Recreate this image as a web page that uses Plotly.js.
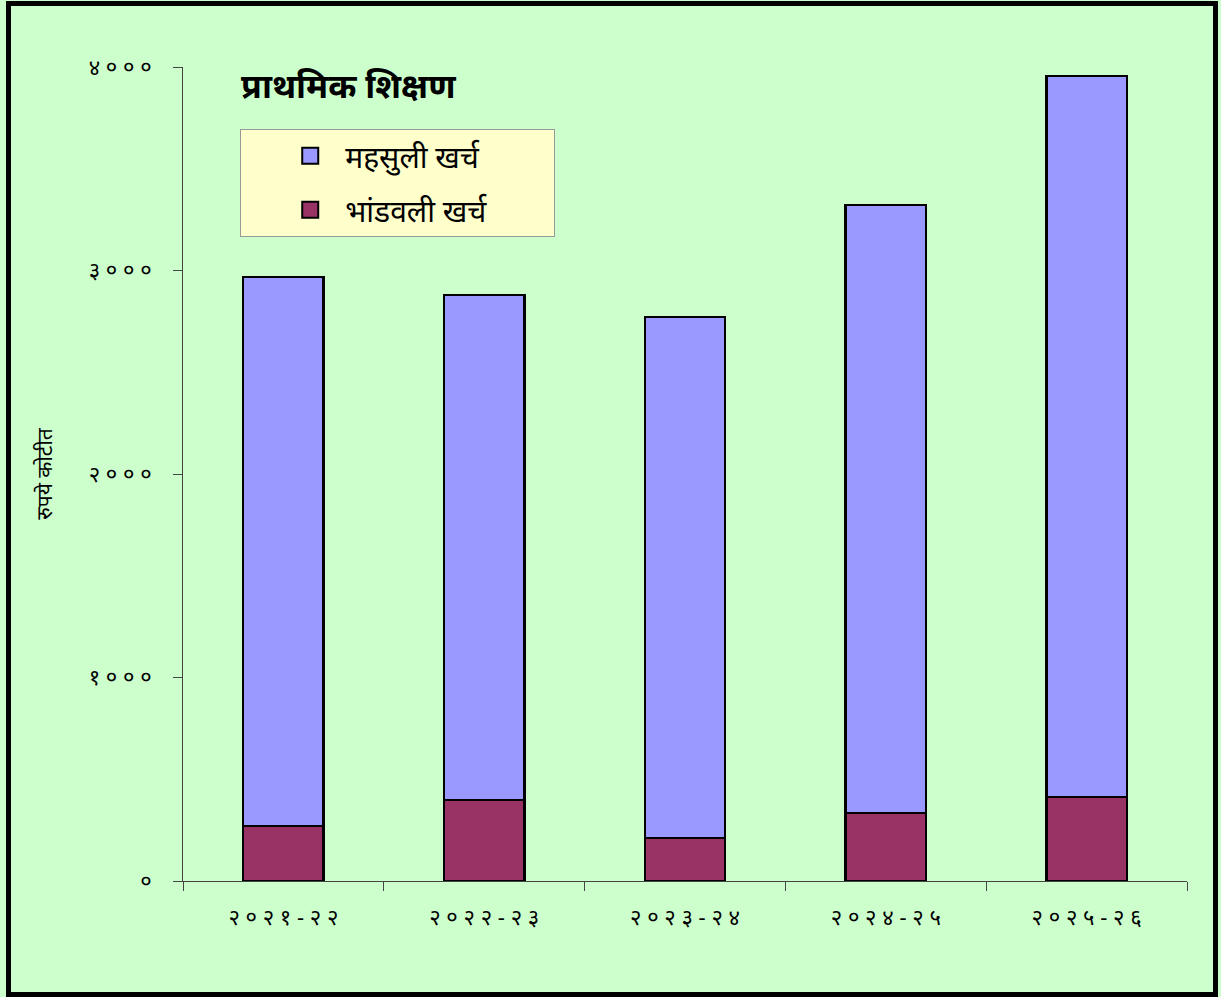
<!DOCTYPE html>
<html>
<head>
<meta charset="utf-8">
<script src="https://cdn.plot.ly/plotly-3.0.1.min.js"></script>
<style>
html,body{margin:0;padding:0;background:#ffffff;}
#wrap{position:relative;width:1221px;height:997px;}
#chart{position:absolute;left:0;top:0;width:1221px;height:997px;}
#frame{position:absolute;left:6px;top:1px;width:1212px;height:996px;border:5px solid #000;box-sizing:border-box;pointer-events:none;z-index:10;}
</style>
</head>
<body>
<div id="wrap"><div id="chart"></div><div id="frame"></div></div>
<script>
const categories = ["२ ० २ १ - २ २", "२ ० २ २ - २ ३", "२ ० २ ३ - २ ४", "२ ० २ ४ - २ ५", "२ ० २ ५ - २ ६"];
const capitalExp = [270, 398, 211, 334, 413];      // भांडवली खर्च
const revenueExp = [2698, 2482, 2560, 2988, 3543]; // महसुली खर्च
const tickVals = [0, 1000, 2000, 3000, 4000];
const tickText = ["०", "१ ० ० ०", "२ ० ० ०", "३ ० ० ०", "४ ० ० ०"];
const chartTitle = "प्राथमिक शिक्षण";
const yTitle = "रुपये कोटीत";
const seriesNames = ["भांडवली खर्च", "महसुली खर्च"];
const seriesColors = ["#993366", "#9999FF"];

const fontFam = "Noto Sans, Noto Sans Devanagari, DejaVu Sans, sans-serif";
const pad = "\u00a0".repeat(8);

const traces = [
  {type: "bar", name: seriesNames[0], x: categories, y: capitalExp, showlegend: false,
   marker: {color: seriesColors[0], line: {color: "#000", width: 2.5}}},
  {type: "bar", name: seriesNames[1], x: categories, y: revenueExp, showlegend: false,
   marker: {color: seriesColors[1], line: {color: "#000", width: 2.5}}},
  // legend entries (larger square symbols)
  {type: "scatter", mode: "markers", name: seriesNames[1] + pad, x: [null], y: [null],
   legendgroup: "a", legendrank: 1,
   marker: {symbol: "square", size: 22, color: seriesColors[1], line: {color: "#000", width: 2}}},
  {type: "scatter", mode: "markers", name: seriesNames[0] + pad, x: [null], y: [null],
   legendgroup: "b", legendrank: 2,
   marker: {symbol: "square", size: 22, color: seriesColors[0], line: {color: "#000", width: 2}}}
];

const layout = {
  width: 1221, height: 997,
  margin: {l: 183, r: 34, t: 67, b: 116},
  paper_bgcolor: "#CCFFCC", plot_bgcolor: "#CCFFCC",
  barmode: "stack", bargap: 0.6,
  showlegend: true,
  font: {family: fontFam, color: "#000"},
  legend: {
    x: 0.057, y: 0.924, xanchor: "left", yanchor: "top",
    bgcolor: "#FFFFCC", bordercolor: "#999", borderwidth: 1,
    font: {size: 30, family: fontFam}, traceorder: "grouped",
    itemsizing: "trace", itemwidth: 60, tracegroupgap: 12,
    indentation: 34
  },
  xaxis: {
    type: "category", showgrid: false, showline: true, linecolor: "#444", linewidth: 1,
    ticks: "outside", ticklen: 9, tickcolor: "#444", tickson: "boundaries",
    tickfont: {size: 22, family: fontFam}, zeroline: false, ticklabelstandoff: 17
  },
  yaxis: {
    range: [0, 4000], showgrid: false, showline: true, linecolor: "#444", linewidth: 1,
    ticks: "outside", ticklen: 9, tickcolor: "#444",
    tickvals: tickVals, ticktext: tickText, tickfont: {size: 22, family: fontFam},
    zeroline: false, ticklabelstandoff: 17,
    title: {text: yTitle, font: {size: 21, family: fontFam}, standoff: 30}
  },
  annotations: [{
    text: "<b>" + chartTitle + "</b>", xref: "paper", yref: "paper",
    x: 0.056, y: 0.978, xanchor: "left", yanchor: "middle", showarrow: false,
    font: {size: 34, family: fontFam, color: "#000"}
  }]
};

Plotly.newPlot("chart", traces, layout, {displayModeBar: false, staticPlot: true});
</script>
</body>
</html>
